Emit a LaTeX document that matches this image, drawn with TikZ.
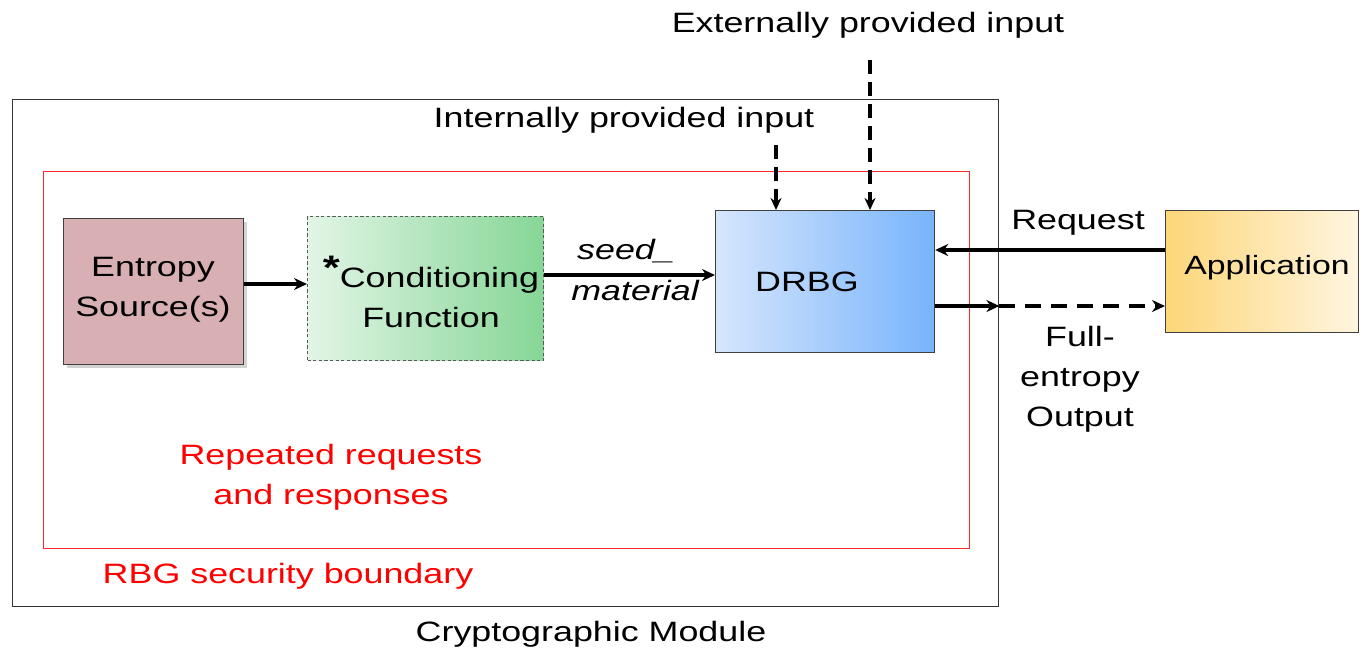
\documentclass[tikz,border=0pt]{standalone}
\usepackage{fontspec}
\setmainfont[FakeStretch=1.28]{Liberation Sans}
\usetikzlibrary{arrows.meta,shadows}
\definecolor{entropyfill}{RGB}{216,176,180}
\definecolor{condleft}{RGB}{226,245,230}
\definecolor{condright}{RGB}{134,214,150}
\definecolor{drbgleft}{RGB}{214,230,252}
\definecolor{drbgright}{RGB}{120,180,252}
\definecolor{appleft}{RGB}{252,214,120}
\definecolor{appright}{RGB}{255,245,224}
\definecolor{bndred}{RGB}{255,40,40}
\tikzset{
  px/.style={x=0.5pt,y=-0.5pt},
  lbl/.style={font=\fontsize{14}{20}\selectfont, inner sep=0pt, align=center},
  redlbl/.style={lbl, text=red},
  blk/.style={draw=black!75, line width=0.6pt, inner sep=0pt, anchor=north west},
  flow/.style={line width=1.7pt, -{Stealth[length=6.5pt,width=6pt]}},
  dflow/.style={flow, dash pattern=on 8pt off 5pt},
  vflow/.style={line width=1.7pt, -{Stealth[length=6pt,width=5.5pt]}, dash pattern=on 7pt off 4pt},
}
\begin{document}
\begin{tikzpicture}[px]
\useasboundingbox (0,0) rectangle (1362,655);

% outer boundaries
\node[draw=black!80, line width=0.7pt, anchor=north west, minimum width=493pt, minimum height=253.5pt, inner sep=0pt] (module) at (12,99) {};
\node[draw=bndred, line width=0.5pt, anchor=north west, minimum width=463pt, minimum height=188.5pt, inner sep=0pt] (rbg) at (43,171) {};

% functional blocks
\node[blk, fill=entropyfill, drop shadow={opacity=0.35, shadow xshift=1.5pt, shadow yshift=-1.5pt}, minimum width=90pt, minimum height=73pt] (entropy) at (63,218) {};
\node[lbl] (entropytxt) at (153,290) {Entropy\\Source(s)};

\node[blk, draw=black!65, dash pattern=on 1.6pt off 1.2pt, left color=condleft, right color=condright, minimum width=118pt, minimum height=72pt] (cond) at (307,216) {};
\node[lbl] (condtxt) at (431,292) {\raisebox{4pt}{\fontsize{17}{20}\selectfont\bfseries *}Conditioning\\Function};

\node[blk, left color=drbgleft, right color=drbgright, minimum width=109.5pt, minimum height=71pt] (drbg) at (715,210) {};
\node[lbl] (drbgtxt) at (807,282) {DRBG};

\node[blk, left color=appleft, right color=appright, minimum width=96.5pt, minimum height=61pt] (app) at (1165,210) {};
\node[lbl, font=\fontsize{13.2}{20}\selectfont] (apptxt) at (1267,268) {Application};

% seed material path
\draw[flow] (entropy.east |- 0,284) -- (cond.west |- 0,284);
\draw[flow] (cond.east |- 0,275) -- (drbg.west |- 0,275);
\node[lbl] (seedtxt) at (626,251) {\itshape seed\_};
\node[lbl] (mattxt) at (635,290) {\itshape material};

% inputs from above
\coordinate (intstart) at (776,145);
\coordinate (extstart) at (870,60);
\draw[vflow] (intstart) -- (intstart |- drbg.north);
\draw[vflow] (extstart) -- (extstart |- drbg.north);
\node[lbl] (inttxt) at (624,120) {Internally provided input};
\node[lbl] (exttxt) at (868,25) {Externally provided input};

% request / output exchange with the application
\draw[flow] (app.west |- 0,250) -- (drbg.east |- 0,250);
\node[lbl] (reqtxt) at (1078,223) {Request};
\coordinate (outgate) at (module.east |- 0,306);
\draw[flow] (drbg.east |- 0,306) -- (outgate);
\draw[dflow] (outgate) -- (app.west |- 0,306);
\node[lbl] (outtxt) at (1080,379) {Full-\\entropy\\Output};

% boundary captions
\node[redlbl] (reptxt) at (331,477) {Repeated requests\\and responses};
\node[redlbl] (rbgtxt) at (288,576) {RBG security boundary};
\node[lbl] (modtxt) at (591,634) {Cryptographic Module};
\end{tikzpicture}
\end{document}
